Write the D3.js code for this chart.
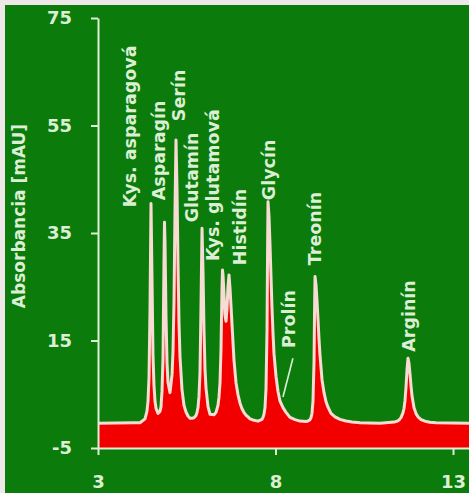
<!DOCTYPE html>
<html>
<head>
<meta charset="utf-8">
<script src="https://cdn.jsdelivr.net/npm/d3@7"></script>
<style>
html,body{margin:0;padding:0;background:#eee8e8;}
svg{display:block;}
</style>
</head>
<body>
<svg id="chart" width="469" height="493"></svg>
<script>
// Retention time (min)
const times = [3.000,4.000,4.183,4.324,4.380,4.408,4.437,4.465,4.493,4.521,4.549,4.577,4.606,4.634,4.690,4.746,4.775,4.803,4.831,4.859,4.873,4.887,4.915,4.944,4.972,5.028,5.085,5.113,5.141,5.169,5.197,5.225,5.254,5.282,5.310,5.366,5.423,5.479,5.535,5.592,5.648,5.704,5.761,5.789,5.817,5.845,5.873,5.901,5.930,5.958,5.986,6.014,6.042,6.099,6.155,6.211,6.268,6.324,6.380,6.408,6.437,6.465,6.493,6.507,6.521,6.549,6.577,6.606,6.634,6.662,6.690,6.718,6.746,6.775,6.831,6.887,6.944,7.000,7.056,7.113,7.169,7.225,7.282,7.394,7.507,7.620,7.648,7.676,7.704,7.732,7.761,7.775,7.789,7.817,7.845,7.873,7.901,7.930,7.958,8.014,8.070,8.127,8.211,8.296,8.408,8.549,8.690,8.859,8.915,8.972,9.000,9.028,9.056,9.085,9.099,9.113,9.141,9.169,9.197,9.225,9.254,9.310,9.366,9.423,9.479,9.563,9.676,9.817,9.986,10.155,10.380,10.944,11.338,11.423,11.479,11.535,11.592,11.620,11.648,11.676,11.704,11.732,11.761,11.789,11.817,11.845,11.901,11.958,12.014,12.099,12.211,12.352,12.521,13.450];
// Absorbance (mAU)
const absorbance = [-0.4,-0.3,-0.3,0.42,1.85,3.69,8.2,20.9,40.5,26.6,12.3,6.66,3.69,2.38,1.44,1.82,2.7,5.58,11.7,29.9,37.0,33.4,19.7,10.9,7.2,5.3,8.6,13.05,22.3,39.3,52.3,43.3,29.0,18.2,11.9,5.87,2.9,1.7,0.95,0.53,0.55,0.61,1.04,1.59,2.52,4.65,9.1,21.3,35.9,27.9,16.8,9.7,6.2,2.7,1.27,1.22,1.17,1.64,2.95,4.45,7.15,13.5,24.75,28.1,27.2,23.7,19.75,18.6,21.0,25.05,27.2,24.8,21.5,17.9,11.3,7.15,4.9,3.34,2.3,1.6,1.1,0.8,0.43,0.15,0.0,0.34,0.69,1.3,2.52,6.0,17.0,30.5,40.8,38.1,32.9,26.9,21.1,16.3,12.5,8.35,5.5,3.7,2.5,1.64,0.7,0.27,0.01,-0.09,0.02,0.26,0.65,1.47,3.78,11.1,20.1,26.9,25.3,22.4,18.9,15.3,12.2,7.7,5.3,3.6,2.6,1.43,0.8,0.32,0.03,-0.16,-0.32,-0.4,-0.18,-0.02,0.22,0.65,1.58,2.4,3.86,6.35,9.6,11.7,10.7,8.7,6.5,4.7,2.5,1.4,0.8,0.3,-0.02,-0.2,-0.32,-0.4];

const peakNames = ["Kys. asparagová","Asparagín","Serín","Glutamín","Kys. glutamová","Histidín","Glycín","Prolín","Treonín","Arginín"];
const labelTimes = [3.90,4.72,5.28,5.65,6.24,7.00,7.82,8.38,9.11,11.76];
const labelAbs = [39.8,41.1,55.8,37.0,29.8,29.0,41.1,13.6,29.0,12.9];
const prolinLeaderTimes = [8.21,8.49];
const prolinLeaderAbs = [4.5,11.7];

const xTicks = [3,8,13];
const yTicks = [-5,15,35,55,75];
const yTitle = "Absorbancia [mAU]";

const W = 469, H = 493;
const green = "#0b7b0b";
const pale = "#dcefd5";
const font = "'DejaVu Sans', Verdana, sans-serif";

const svg = d3.select("#chart");
svg.append("rect").attr("width", W).attr("height", H).attr("fill", "#eee8e8");
svg.append("rect").attr("x", 5).attr("y", 5).attr("width", W - 5).attr("height", H - 5).attr("fill", green);

const x = d3.scaleLinear().domain([3, 13.45]).range([98, 469]);
const y = d3.scaleLinear().domain([-5, 75]).range([448, 18]);

const pts = times.map((t, i) => [t, absorbance[i]]);

svg.append("path").datum(pts)
  .attr("d", d3.area().x(d => x(d[0])).y0(y(-5)).y1(d => y(d[1])))
  .attr("fill", "#f20000");

svg.append("path").datum(pts)
  .attr("d", d3.line().x(d => x(d[0])).y(d => y(d[1])))
  .attr("fill", "none").attr("stroke", "#f6dcd2").attr("stroke-width", 3)
  .attr("stroke-linejoin", "round");

// Axes
const yAxis = svg.append("g").attr("transform", `translate(${x(3)},0)`)
  .call(d3.axisLeft(y).tickValues(yTicks).tickFormat(d => String(d)).tickSize(7).tickSizeOuter(0).tickPadding(19));
const xAxis = svg.append("g").attr("transform", `translate(0,${y(-5)})`)
  .call(d3.axisBottom(x).tickValues(xTicks).tickFormat(d => String(d)).tickSize(7).tickSizeOuter(0).tickPadding(20));
[yAxis, xAxis].forEach(g => {
  g.select(".domain").attr("stroke", pale).attr("stroke-width", 2);
  g.selectAll(".tick line").attr("stroke", pale).attr("stroke-width", 2);
  g.selectAll(".tick text").attr("fill", pale).attr("font-family", font)
    .attr("font-weight", "bold").attr("font-size", 18);
});

svg.append("text")
  .attr("transform", `translate(19,${(y(-5) + y(75)) / 2 - 17}) rotate(-90)`)
  .attr("text-anchor", "middle").attr("dy", "0.35em")
  .attr("fill", pale).attr("font-family", font).attr("font-weight", "bold").attr("font-size", 17)
  .text(yTitle);

// Peak labels
svg.selectAll("text.peak").data(peakNames).enter().append("text")
  .attr("class", "peak")
  .attr("transform", (d, i) => `translate(${x(labelTimes[i])},${y(labelAbs[i])}) rotate(-90)`)
  .attr("text-anchor", "start").attr("dy", "0.36em")
  .attr("fill", pale).attr("font-family", font).attr("font-weight", "bold").attr("font-size", 17.5)
  .text(d => d);

svg.append("line")
  .attr("x1", x(prolinLeaderTimes[0])).attr("y1", y(prolinLeaderAbs[0]))
  .attr("x2", x(prolinLeaderTimes[1])).attr("y2", y(prolinLeaderAbs[1]))
  .attr("stroke", pale).attr("stroke-width", 1.6);
</script>
</body>
</html>
